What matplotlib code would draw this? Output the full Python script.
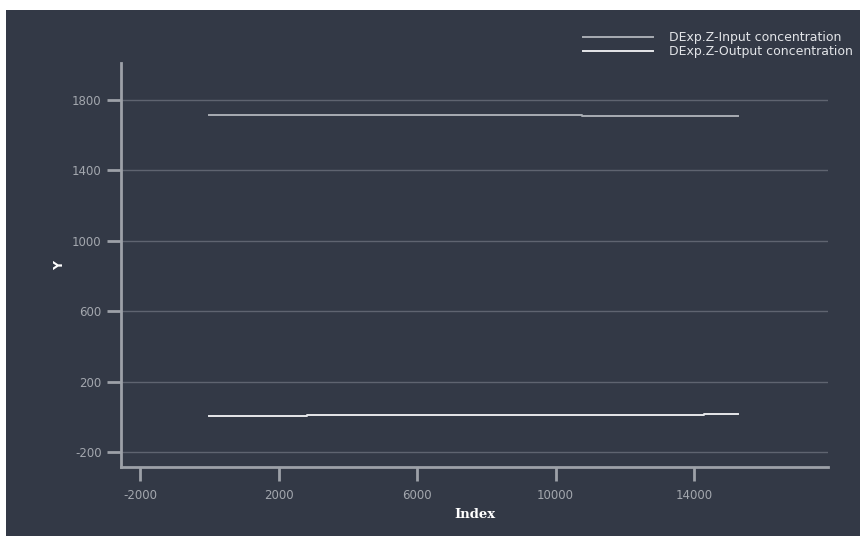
import matplotlib
matplotlib.use("Agg")
import matplotlib.pyplot as plt
from matplotlib.patches import Rectangle

plt.rcParams["axes.unicode_minus"] = False

# Data
input_x = [0, 10760, 15280]
input_y = [1715, 1707, 1707]
output_x = [0, 2810, 14300, 15280]
output_y = [2, 10, 18, 18]
y_ticks = [-200, 200, 600, 1000, 1400, 1800]
x_ticks = [-2000, 2000, 6000, 10000, 14000]
series_names = ["DExp.Z-Input concentration", "DExp.Z-Output concentration"]

BG = "#333946"
GRID = "#5f6470"
SPINE = "#9da1a8"
TICKLBL = "#a3a7ae"

W, H = 860, 536
fig = plt.figure(figsize=(W / 100, H / 100), dpi=100, facecolor="white")
fig.patches.append(Rectangle((6 / W, 0), 1 - 6 / W, 1 - 10 / H, transform=fig.transFigure,
                             facecolor=BG, edgecolor="none", zorder=-10))

ax = fig.add_axes([121 / W, (H - 467) / H, (828 - 121) / W, (467 - 63) / H])
ax.set_facecolor("none")

l1, = ax.plot(input_x, input_y, drawstyle="steps-post", color="#a9adb3", lw=1.4)
l2, = ax.plot(output_x, output_y, drawstyle="steps-post", color="#e6e7ea", lw=1.4)

ax.set_xlim(-2549, 17870)
ax.set_ylim(-285, 2010)
ax.set_xticks(x_ticks)
ax.set_yticks(y_ticks)
ax.yaxis.grid(True, color=GRID, lw=1)
ax.xaxis.grid(False)
ax.set_axisbelow(True)

for s in ["top", "right"]:
    ax.spines[s].set_visible(False)
for s in ["left", "bottom"]:
    ax.spines[s].set_color(SPINE)
    ax.spines[s].set_linewidth(2)

ax.tick_params(axis="both", colors=SPINE, width=2, length=10, direction="out",
               labelcolor=TICKLBL, labelsize=8.5)
ax.tick_params(axis="y", pad=4)
ax.tick_params(axis="x", pad=6)

ax.set_xlabel("Index", family="DejaVu Serif", fontweight="bold", color="white",
              fontsize=9.5, labelpad=4)
ax.set_ylabel("Y", fontweight="bold", color="white", fontsize=9)
ax.yaxis.set_label_coords(-0.078, 0.5)

leg = fig.legend([l1, l2], series_names, loc="upper left",
                 bbox_to_anchor=(578 / W, 1 - 26 / H), frameon=False,
                 fontsize=9, handlelength=5.6, handletextpad=1.25,
                 labelspacing=0.1, borderaxespad=0)
for t in leg.get_texts():
    t.set_color("#e2e4e8")

fig.savefig("out.png", dpi=100, facecolor="white")
